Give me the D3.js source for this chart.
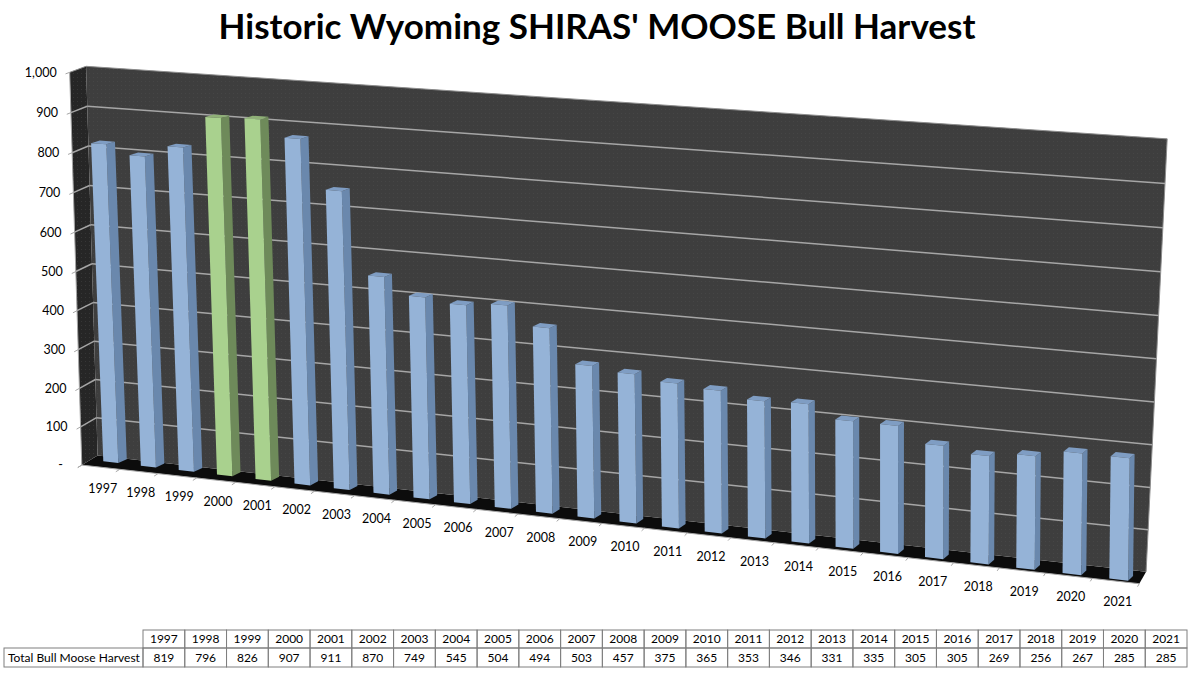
<!DOCTYPE html>
<html><head><meta charset="utf-8">
<script src="https://cdn.jsdelivr.net/npm/d3@7"></script>
<style>body{margin:0;background:#fff}svg{display:block}</style>
</head><body>
<svg id="c" width="1200" height="675"></svg>
<script>
// ---------- data ----------
const years = ["1997","1998","1999","2000","2001","2002","2003","2004","2005","2006","2007","2008","2009","2010","2011","2012","2013","2014","2015","2016","2017","2018","2019","2020","2021"];
const harvest = [819,796,826,907,911,870,749,545,504,494,503,457,375,365,353,346,331,335,305,305,269,256,267,285,285];
const highlighted = ["2000","2001"];
const yTickValues = [0,100,200,300,400,500,600,700,800,900,1000];
const titleText = "Historic Wyoming SHIRAS' MOOSE Bull Harvest";
const rowLabel = "Total Bull Moose Harvest";

// ---------- projection calibration (layout only) ----------
// walls: world X slots 0..25, Y 0..1, Z depth 0 front..1 back -> screen px
const wallCalib = [
  [0,1,1, 90,66],[25,1,1, 1167,138],[0,0,1, 94,457],[25,0,1, 1146,571],
  [0,1,0, 66,73],[0,0,0, 85,463],[25,0,0, 1139,585],[12,0,0, 560.7,518.5],
  [25,0.5,1, 1156.5,359.3],[0,0.5,0, 75.5,272]
];
// columns: X slot (band 0.3..0.7 in slot), Y 0..1, Z 0 front face..1 back face -> screen px
const barCalib = [
  [0.3,0.819,0, 91.7,143.3],[0.7,0.819,0, 106.7,143.3],[0.7,0.819,1, 114.3,141.7],
  [0.3,0,0, 100.7,462],[0.7,0,0, 119.3,463],[0.7,0,1, 128.3,460],
  [12.3,0,0, 577.7,516.7],[12.7,0,0, 595,517.5],[12.7,0,1, 600.7,514],
  [15.3,0,0, 705,531.7],[15.7,0,0, 722.7,532.5],[15.7,0,1, 726.7,529],
  [24.3,0.285,0, 1108,458.3],[24.7,0.285,0, 1131.7,459],[24.7,0.285,1, 1135,453.5],
  [24.3,0,0, 1108,578.3],[24.7,0,0, 1130,580],[24.7,0,1, 1134,575.5],
  [21.3,0.256,0, 970,455],[21.3,0,0, 970,561.7]
];
function fit(pts){
  const A=[],b=[];
  pts.forEach(([X,Y,Z,u,v])=>{
    const x=X/25,y=Y,z=Z,uu=u/1000,vv=v/1000;
    A.push([x,y,z,1,0,0,0,0,-uu*x,-uu*y,-uu*z]); b.push(uu);
    A.push([0,0,0,0,x,y,z,1,-vv*x,-vv*y,-vv*z]); b.push(vv);
  });
  const n=11, M=[...Array(n)].map(()=>Array(n+1).fill(0));
  for(let i=0;i<n;i++){for(let j=0;j<n;j++){let s=0;for(let k=0;k<A.length;k++)s+=A[k][i]*A[k][j];M[i][j]=s;}
    let s=0;for(let k=0;k<A.length;k++)s+=A[k][i]*b[k];M[i][n]=s;}
  for(let c=0;c<n;c++){let p=c;for(let r=c+1;r<n;r++)if(Math.abs(M[r][c])>Math.abs(M[p][c]))p=r;
    [M[c],M[p]]=[M[p],M[c]];
    for(let r=0;r<n;r++){if(r===c)continue;const f=M[r][c]/M[c][c];for(let k=c;k<=n;k++)M[r][k]-=f*M[c][k];}}
  const P=M.map((row,i)=>row[n]/row[i]);
  return (X,Y,Z)=>{const x=X/25,y=Y,z=Z;const d=P[8]*x+P[9]*y+P[10]*z+1;
    return [1000*(P[0]*x+P[1]*y+P[2]*z+P[3])/d,1000*(P[4]*x+P[5]*y+P[6]*z+P[7])/d];};
}
const proj=fit(wallCalib);
const projBar=fit(barCalib);

// ---------- scales ----------
const xBand=d3.scaleBand().domain(years).range([0,25]).paddingInner(0.6).paddingOuter(0.3);
const yScale=d3.scaleLinear().domain([0,1000]).range([0,1]);

const svg=d3.select("#c");
const polyW=(f,pts)=>"M"+pts.map(p=>f(...p).map(v=>v.toFixed(2)).join(",")).join("L")+"Z";
const poly=pts=>polyW(proj,pts);
const line=(a,b)=>"M"+proj(...a).join(",")+"L"+proj(...b).join(",");

const defs=svg.append("defs");
const dp=defs.append("pattern").attr("id","dotsBack").attr("width",4).attr("height",4).attr("patternUnits","userSpaceOnUse");
dp.append("rect").attr("width",4).attr("height",4).attr("fill","#3e3e3e");
dp.append("rect").attr("x",1).attr("y",1).attr("width",1).attr("height",1).attr("fill","#464646");
const ds=defs.append("pattern").attr("id","dotsSide").attr("width",4).attr("height",4).attr("patternUnits","userSpaceOnUse");
ds.append("rect").attr("width",4).attr("height",4).attr("fill","#262626");
ds.append("rect").attr("x",1).attr("y",1).attr("width",1).attr("height",1).attr("fill","#363636");

// title
const title=svg.append("text").attr("x",597).attr("y",39).attr("text-anchor","middle")
  .attr("font-family","Lato, 'Open Sans', sans-serif").attr("font-weight","bold").attr("font-size",34).attr("fill","#000").text(titleText);
const tw=title.node().getComputedTextLength(); title.attr("font-size",34*757/tw);

// walls
svg.append("path").attr("d",poly([[0,0,0],[25,0,0],[25,0,1],[0,0,1]])).attr("fill","#0c0c0c");
svg.append("path").attr("d",poly([[0,0,0],[0,1,0],[0,1,1],[0,0,1]])).attr("fill","url(#dotsSide)");
svg.append("path").attr("d",poly([[0,0,1],[25,0,1],[25,1,1],[0,1,1]])).attr("fill","url(#dotsBack)");
svg.append("path").attr("d",line([0,1,0],[0,1,1])+line([0,1,1],[25,1,1])+line([25,1,1],[25,0,1]))
  .attr("stroke","#8c8c8c").attr("stroke-width",1).attr("fill","none");

// gridlines
const grid=svg.append("g").attr("stroke","#a6a6a6").attr("stroke-width",1.5).attr("fill","none");
yTickValues.filter(t=>t>0&&t<1000).forEach(t=>{
  const y=yScale(t);
  grid.append("path").attr("d",line([0,y,1],[25,y,1]));
  grid.append("path").attr("d",line([0,y,0],[0,y,1]));
});
// axis lines & ticks
const ax=svg.append("g").attr("stroke","#a6a6a6").attr("stroke-width",1).attr("fill","none");
ax.append("path").attr("d",line([0,0,0],[0,1,0]));
ax.append("path").attr("d",line([0,0,0],[25,0,0]));
yTickValues.forEach(t=>ax.append("path").attr("d",line([0,yScale(t),0],[0,yScale(t),-0.25])));
d3.range(0,26).forEach(i=>ax.append("path").attr("d",line([i,0,0],[i,0,-0.25])));

// bars
const bars=svg.append("g");
years.forEach((yr,i)=>{
  const x0=xBand(yr),x1=x0+xBand.bandwidth(),v=yScale(harvest[i]);
  const g=highlighted.includes(yr);
  const col=g?{f:"#a9d18e",s:"#6e8a5a",t:"#8fb077"}:{f:"#95b3d7",s:"#6a88ad",t:"#7f9dc3"};
  const b=bars.append("g");
  b.append("path").attr("d",polyW(projBar,[[x1,0,0],[x1,v,0],[x1,v,1],[x1,0,1]])).attr("fill",col.s);
  b.append("path").attr("d",polyW(projBar,[[x0,v,0],[x1,v,0],[x1,v,1],[x0,v,1]])).attr("fill",col.t);
  b.append("path").attr("d",polyW(projBar,[[x0,0,0],[x1,0,0],[x1,v,0],[x0,v,0]])).attr("fill",col.f);
});

// y labels
const fmt=d3.format(",");
const yl=svg.append("g").attr("font-family","Lato, 'Open Sans', sans-serif").attr("font-size",12.5).attr("fill","#000");
yTickValues.forEach(t=>{
  const [u,v]=proj(0,yScale(t),0);
  yl.append("text").attr("x",u-(t===0?19:13)).attr("y",v).attr("dy","0.35em").attr("text-anchor","end").text(t===0?"-":fmt(t));
});
// x labels
years.forEach((yr,i)=>{
  const [u,v]=proj(xBand(yr)+xBand.bandwidth()/2,0,0);
  yl.append("text").attr("x",u+2).attr("y",v+21).attr("dy","0.35em").attr("text-anchor","middle").text(yr);
});

// data table
const tb=svg.append("g").attr("font-family","Lato, 'Open Sans', sans-serif").attr("font-size",12).attr("fill","#000");
const tx0=4,tx1=143,tcw=(1187-143)/years.length,ty0=630,ty1=648,ty2=667;
tb.append("rect").attr("x",tx0).attr("y",ty1).attr("width",tx1-tx0).attr("height",ty2-ty1).attr("fill","none").attr("stroke","#7f7f7f");
tb.append("text").attr("x",tx0+4).attr("y",(ty1+ty2)/2).attr("dy","0.35em").text(rowLabel);
years.forEach((yr,i)=>{
  const x=tx1+i*tcw;
  tb.append("rect").attr("x",x).attr("y",ty0).attr("width",tcw).attr("height",ty1-ty0).attr("fill","none").attr("stroke","#7f7f7f");
  tb.append("rect").attr("x",x).attr("y",ty1).attr("width",tcw).attr("height",ty2-ty1).attr("fill","none").attr("stroke","#7f7f7f");
  tb.append("text").attr("x",x+tcw/2).attr("y",(ty0+ty1)/2).attr("dy","0.35em").attr("text-anchor","middle").text(yr);
  tb.append("text").attr("x",x+tcw/2).attr("y",(ty1+ty2)/2).attr("dy","0.35em").attr("text-anchor","middle").text(harvest[i]);
});
</script>
</body></html>
